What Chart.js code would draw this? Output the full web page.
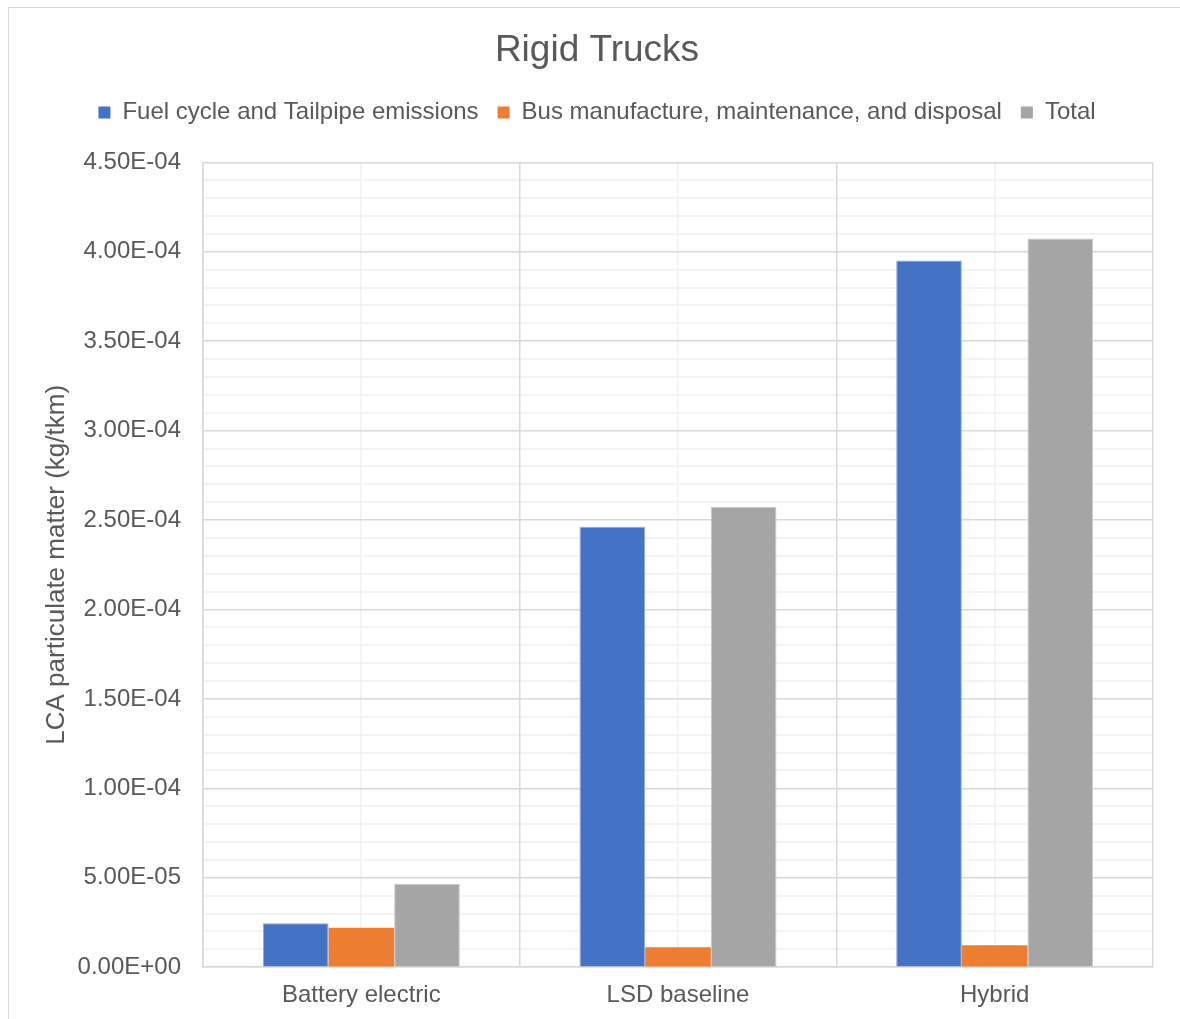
<!DOCTYPE html>
<html>
<head>
<meta charset="utf-8">
<script src="https://cdn.jsdelivr.net/npm/chart.js@4/dist/chart.umd.min.js"></script>
<style>
  body { margin: 0; background: #fff; }
  #frame {
    position: absolute; left: 8px; top: 7px;
    width: 1180px; height: 1030px;
    border: 1px solid #d9d9d9; box-sizing: border-box;
  }
  #wrap { position: absolute; left: 0; top: 0; width: 1171px; height: 1016px; }
</style>
</head>
<body>
<div id="frame"><div id="wrap"><canvas id="chart"></canvas></div></div>
<script>
// categories and series
var categories = ['Battery electric', 'LSD baseline', 'Hybrid'];
var fuel_tailpipe = [2.46e-5, 2.463e-4, 3.951e-4];
var bus_manufacture = [2.2e-5, 1.12e-5, 1.23e-5];
var total = [4.66e-5, 2.575e-4, 4.074e-4];

var y_max = 4.5e-4;
var y_major_step = 5e-5;
var y_minor_step = 1e-5;

var text_color = '#595959';
var font_family = '"Liberation Sans", Arial, sans-serif';
var major_grid = '#d9d9d9';
var minor_grid = '#f0f0f0';

// 4.50E-04 style labels
function sci_label(v) {
    var s = v.toExponential(2).split('e');
    var exp = parseInt(s[1], 10);
    var sign = exp < 0 ? '-' : '+';
    var digits = Math.abs(exp) < 10 ? '0' + Math.abs(exp) : '' + Math.abs(exp);
    return s[0] + 'E' + sign + digits;
}

// minor grid: horizontal every 1E-05 and vertical through each category centre
var minor_lines = {
    id: 'minor_lines',
    beforeDraw: function (chart) {
        var x = chart.scales.x, y = chart.scales.y;
        var area = chart.chartArea, ctx = chart.ctx;
        ctx.save();
        ctx.strokeStyle = minor_grid;
        ctx.lineWidth = 1.5;
        var n = Math.round(y_max / y_minor_step);
        for (var i = 1; i < n; i++) {
            if (i % 5 === 0) continue;
            var py = Math.round(y.getPixelForValue(i * y_minor_step));
            ctx.beginPath();
            ctx.moveTo(area.left, py);
            ctx.lineTo(area.right, py);
            ctx.stroke();
        }
        for (var j = 0; j < categories.length; j++) {
            var px = Math.round(x.getPixelForValue(j));
            ctx.beginPath();
            ctx.moveTo(px, area.top);
            ctx.lineTo(px, area.bottom);
            ctx.stroke();
        }
        ctx.restore();
    }
};

// extra room under the legend
var legend_gap = {
    id: 'legend_gap',
    beforeInit: function (chart) {
        var fit = chart.legend.fit;
        chart.legend.fit = function () {
            fit.bind(chart.legend)();
            this.height += 28;
        };
    }
};

var ctx = document.getElementById('chart').getContext('2d');
var chart = new Chart(ctx, {
    type: 'bar',
    data: {
        labels: categories,
        datasets: [{
            label: 'Fuel cycle and Tailpipe emissions',
            backgroundColor: '#4472c4',
            borderColor: '#8faadc',
            borderWidth: 1,
            data: fuel_tailpipe
        }, {
            label: 'Bus manufacture, maintenance, and disposal',
            backgroundColor: '#ed7d31',
            borderWidth: 0,
            data: bus_manufacture
        }, {
            label: 'Total',
            backgroundColor: '#a5a5a5',
            borderColor: '#c9c9c9',
            borderWidth: 1,
            data: total
        }]
    },
    plugins: [minor_lines, legend_gap],
    options: {
        responsive: true,
        maintainAspectRatio: false,
        animation: false,
        datasets: {
            bar: { categoryPercentage: 0.622, barPercentage: 1.0 }
        },
        layout: { padding: { left: 32, right: 27, top: 10, bottom: 0 } },
        plugins: {
            tooltip: { enabled: false },
            title: {
                display: true,
                text: 'Rigid Trucks',
                color: text_color,
                font: { family: font_family, size: 37, weight: 'normal' },
                padding: { top: 11, bottom: 8 }
            },
            legend: {
                position: 'top',
                labels: {
                    color: text_color,
                    font: { family: font_family, size: 24 },
                    boxWidth: 12,
                    boxHeight: 12,
                    padding: 19,
                    generateLabels: function (chart) {
                        return chart.data.datasets.map(function (ds, i) {
                            return {
                                text: ds.label,
                                fillStyle: ds.backgroundColor,
                                strokeStyle: ds.backgroundColor,
                                lineWidth: 0,
                                fontColor: text_color,
                                datasetIndex: i
                            };
                        });
                    }
                }
            }
        },
        scales: {
            x: {
                grid: {
                    offset: true,
                    color: major_grid,
                    lineWidth: 1.5,
                    drawTicks: false
                },
                border: { color: major_grid, width: 1.5 },
                ticks: {
                    color: text_color,
                    font: { family: font_family, size: 24 },
                    padding: 14
                }
            },
            y: {
                min: 0,
                max: y_max,
                afterFit: function (scale) {
                    scale.width = 162;
                },
                grid: {
                    drawTicks: false,
                    color: major_grid,
                    lineWidth: 1.5
                },
                border: { color: major_grid, width: 1.5 },
                ticks: {
                    stepSize: y_major_step,
                    color: text_color,
                    font: { family: font_family, size: 24 },
                    padding: 22,
                    callback: function (v) {
                        return sci_label(v);
                    }
                },
                title: {
                    display: true,
                    text: 'LCA particulate matter (kg/tkm)',
                    color: text_color,
                    font: { family: font_family, size: 26 },
                    padding: { top: 0, bottom: 0 }
                }
            }
        }
    }
});
</script>
</body>
</html>
